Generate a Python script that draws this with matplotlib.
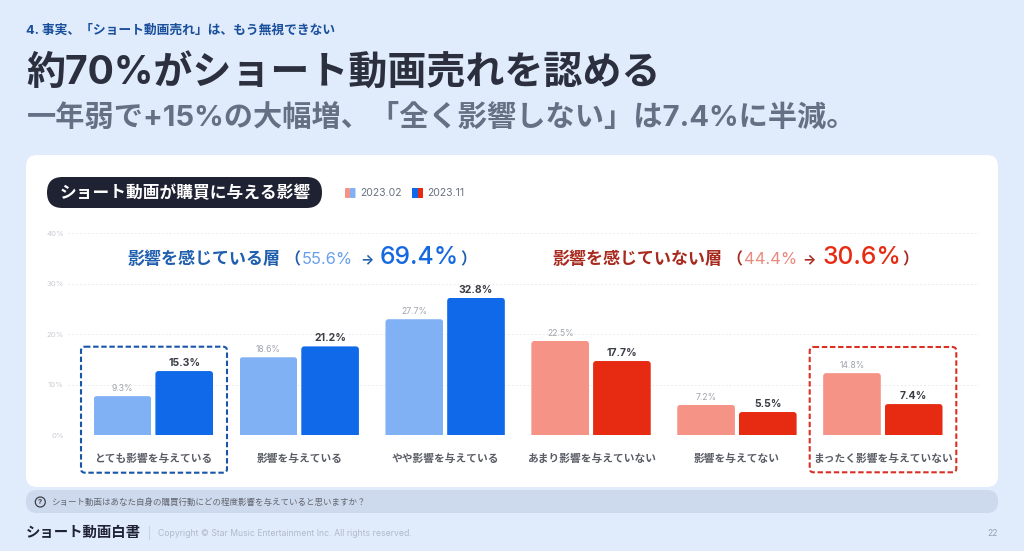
import matplotlib
matplotlib.use("Agg")
import matplotlib.pyplot as plt
from matplotlib.patches import FancyBboxPatch, Rectangle, Circle
from matplotlib.transforms import IdentityTransform

plt.rcParams['font.family'] = ['Inter', 'Noto Sans CJK JP', 'DejaVu Sans']

# Data
categories = ["とても影響を与えている", "影響を与えている", "やや影響を与えている",
              "あまり影響を与えていない", "影響を与えてない", "まったく影響を与えていない"]
values_feb = [9.3, 18.6, 27.7, 22.5, 7.2, 14.8]
values_nov = [15.3, 21.2, 32.8, 17.7, 5.5, 7.4]
tick_labels = ["0%", "10%", "20%", "30%", "40%"]
# the printed grid does not follow the printed values: one grid step spans about 12.08 value units
tick_positions = [0, 12.08, 24.16, 36.24, 48.32]
legend_labels = ["2023.02", "2023.11"]

# Colours
blue_light, blue_dark = "#80b1f4", "#0f69e8"
red_light, red_dark = "#f59386", "#e72b12"
colors_feb = [blue_light] * 3 + [red_light] * 3
colors_nov = [blue_dark] * 3 + [red_dark] * 3

W, H = 1024, 551
fig = plt.figure(figsize=(W / 100, H / 100), dpi=100, facecolor="#e0ebfb")


def px_axes(z):
    a = fig.add_axes([0, 0, 1, 1], zorder=z)
    a.set_xlim(0, W)
    a.set_ylim(H, 0)
    a.axis("off")
    return a


def round_box(a, x0, y0, x1, y1, r, **kw):
    p = FancyBboxPatch((x0, y0), x1 - x0, y1 - y0,
                       boxstyle=f"round,pad=0,rounding_size={r}", **kw)
    a.add_patch(p)
    return p


def put(x, y, s, size, color, weight="normal", ha="left", **kw):
    # size is given in pixels of the 1024 wide picture
    return front.text(x, y, s, fontsize=size * 0.72, color=color, fontweight=weight,
                      ha=ha, va="center", **kw)


back = px_axes(0)
front = px_axes(2)

# Card and question bar
round_box(back, 26, 490, 998, 513, 11, fc="#cdd9ec", ec="none")
round_box(back, 26, 155, 998, 487, 11, fc="white", ec="none")

# Headings
put(26, 30, "4. 事実、「ショート動画売れ」は、もう無視できない", 12.8, "#1a4f9c", "bold")
put(26, 74, "約70%がショート動画売れを認める", 39, "#2b2f3e", "bold")
put(27, 118, "一年弱で+15%の大幅増、「全く影響しない」は7.4%に半減。", 29.2, "#667085", "bold")

# Title pill and legend
round_box(front, 47, 177, 322, 208, 15.5, fc="#1f2233", ec="none")
put(185, 193, "ショート動画が購買に与える影響", 16.7, "white", "bold", ha="center")
round_box(front, 345, 188, 350, 198, 1, fc=red_light, ec="none")
round_box(front, 350, 188, 355.5, 198, 1, fc=blue_light, ec="none")
front.add_patch(Rectangle((412, 188), 5.5, 10, fc=blue_dark, ec="none"))
front.add_patch(Rectangle((417.5, 188), 5, 10, fc=red_dark, ec="none"))
put(360.5, 193.5, legend_labels[0], 10.5, "#6b7280")
put(427.5, 193.5, legend_labels[1], 10.5, "#6b7280")

# Chart
ax_left, ax_right, ax_top, ax_bottom = 68, 978.7, 232.7, 435
ax = fig.add_axes([ax_left / W, 1 - ax_bottom / H, (ax_right - ax_left) / W, (ax_bottom - ax_top) / H],
                  zorder=1)
ax.patch.set_alpha(0)
ax.set_xlim(-0.585, 5.657)
ax.set_ylim(0, 48.4)
for s in ax.spines.values():
    s.set_visible(False)
ax.set_xticks([])
ax.set_yticks(tick_positions)
ax.set_yticklabels(tick_labels, fontsize=5.6, color="#c9ccd2")
ax.tick_params(axis="y", length=0, pad=3)
ax.grid(axis="y", color="#ececee", lw=0.7, ls=(0, (2, 2)))
ax.set_axisbelow(True)

xs = list(range(len(categories)))
bars_feb = ax.bar([x - 0.2115 for x in xs], values_feb, 0.395, color=colors_feb)
bars_nov = ax.bar([x + 0.2115 for x in xs], values_nov, 0.395, color=colors_nov)

# Round the top corners of the bars
for bar in list(bars_feb) + list(bars_nov):
    (x0, y0), (x1, y1) = ax.transData.transform([(bar.get_x(), 0),
                                                 (bar.get_x() + bar.get_width(), bar.get_height())])
    clip = FancyBboxPatch((x0, y0 - 10), x1 - x0, y1 - y0 + 10,
                          boxstyle="round,pad=0,rounding_size=3", transform=IdentityTransform())
    bar.set_clip_path(clip)

for bar, v in zip(bars_feb, values_feb):
    ax.annotate(f"{v}%", (bar.get_x() + bar.get_width() / 2, v), xytext=(0, 2.2),
                textcoords="offset points", ha="center", va="bottom", fontsize=6.2, color="#a0a3aa")
for bar, v in zip(bars_nov, values_nov):
    ax.annotate(f"{v}%", (bar.get_x() + bar.get_width() / 2, v), xytext=(0, 2.4),
                textcoords="offset points", ha="center", va="bottom", fontsize=7.5,
                color="#3a3d46", fontweight="bold")

for x, c in zip(xs, categories):
    cx = ax.transData.transform((x, 0))[0]
    put(cx, 459, c, 10.7, "#5a5d66", "bold", ha="center")

# Dashed boxes
dash = (0, (2.6, 1.3))
round_box(front, 81, 346.7, 227, 472.7, 4, fc="none", ec="#1a56a8", lw=1.5, ls=dash)
round_box(front, 809.7, 347, 956.3, 472.3, 4, fc="none", ec="#d93025", lw=1.5, ls=dash)

# Group headings
put(128, 259.5, "影響を感じている層", 17, "#1f5fae", "bold")
put(284, 259.5, "（", 16, "#1f5fae", "bold")
put(302, 259.5, "55.6%", 16.5, "#6aa0ea")
put(360, 259.5, "→", 14, "#1f5fae", "bold")
put(380, 258, "69.4%", 24.6, "#1568e0", "medium")
put(460, 259.5, "）", 16, "#1f5fae", "bold")

put(553, 259.5, "影響を感じていない層", 17, "#a82a1f", "bold")
put(726, 259.5, "（", 16, "#a82a1f", "bold")
put(744, 259.5, "44.4%", 16.5, "#ea8a7e")
put(802, 259.5, "→", 14, "#a82a1f", "bold")
put(822, 258, "30.6%", 24.6, "#e62b12", "medium")
put(902, 259.5, "）", 16, "#a82a1f", "bold")

# Question bar
front.add_patch(Circle((40.3, 502), 5, fc="none", ec="#3d404a", lw=0.9))
put(40.3, 502, "?", 7.5, "#3d404a", "bold", ha="center")
put(51, 502.5, "ショート動画はあなた自身の購買行動にどの程度影響を与えていると思いますか？", 8.5, "#62666f")

# Footer
put(26, 532.5, "ショート動画白書", 14.4, "#1f2233", "bold")
front.plot([149, 149], [526, 539], color="#c9d3e3", lw=0.8)
put(158, 533, "Copyright © Star Music Entertainment Inc. All rights reserved.", 8.7, "#b3bac8")
put(998, 533, "22", 8.5, "#9aa1ae", ha="right")

fig.savefig("out.png", dpi=100, facecolor=fig.get_facecolor())
